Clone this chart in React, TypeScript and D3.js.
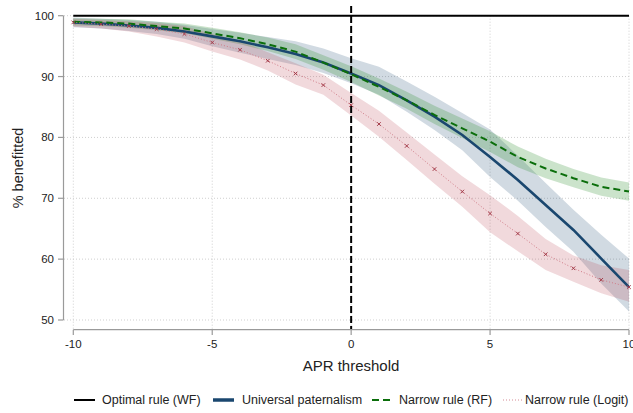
import React from "react";
import * as d3 from "d3";

const thresholds = [-10, -9, -8, -7, -6, -5, -4, -3, -2, -1, 0, 1, 2, 3, 4, 5, 6, 7, 8, 9, 10];

const universal = [98.9, 98.7, 98.4, 98.0, 97.4, 96.6, 95.8, 94.8, 93.7, 92.3, 90.5, 88.6, 86.1, 83.4, 80.4, 76.8, 73.0, 68.9, 64.8, 60.1, 55.4];
const universalLo = [98.1, 97.9, 97.5, 97.0, 96.2, 95.0, 93.9, 92.9, 91.9, 90.6, 88.9, 87.0, 84.2, 81.2, 77.9, 73.5, 69.6, 65.3, 61.2, 56.0, 51.4];
const universalHi = [99.7, 99.5, 99.3, 99.0, 98.5, 97.8, 97.2, 96.5, 95.8, 94.6, 93.0, 91.6, 89.2, 86.7, 84.0, 81.3, 77.0, 72.5, 68.1, 64.0, 60.1];

const rf = [99.0, 98.9, 98.7, 98.3, 97.9, 97.1, 96.3, 95.3, 94.1, 92.3, 90.4, 88.3, 86.1, 83.7, 81.5, 79.3, 76.8, 74.9, 73.3, 71.9, 71.1];
const rfLo = [98.4, 98.3, 98.0, 97.6, 97.1, 96.2, 95.3, 94.2, 92.9, 91.1, 89.1, 86.9, 84.7, 82.2, 79.9, 77.6, 75.1, 73.3, 71.8, 70.4, 69.6];
const rfHi = [99.6, 99.5, 99.4, 99.0, 98.7, 98.0, 97.3, 96.4, 95.3, 93.5, 91.7, 89.7, 87.5, 85.2, 83.1, 81.0, 78.5, 76.5, 74.8, 73.4, 72.6];

const logit = [98.9, 98.6, 98.3, 97.8, 97.0, 95.6, 94.4, 92.6, 90.5, 88.6, 85.3, 82.2, 78.6, 74.8, 71.1, 67.5, 64.2, 60.8, 58.5, 56.6, 55.4];
const logitLo = [98.2, 97.9, 97.4, 96.6, 95.6, 94.1, 92.8, 91.0, 88.7, 87.0, 83.6, 80.1, 76.3, 72.4, 68.6, 64.4, 61.3, 58.2, 56.3, 54.4, 53.0];
const logitHi = [99.5, 99.3, 99.1, 98.8, 98.3, 97.0, 95.9, 94.0, 92.2, 90.3, 87.3, 84.4, 80.8, 77.2, 73.6, 70.5, 67.1, 63.3, 60.6, 59.0, 58.2];

const optimal = 100;
const xTicks = [-10, -5, 0, 5, 10];
const yTicks = [50, 60, 70, 80, 90, 100];
const legendLabels = ["Optimal rule (WF)", "Universal paternalism", "Narrow rule (RF)", "Narrow rule (Logit)"];

const FONT = "'Liberation Sans', Arial, sans-serif";

export default function App() {
  const W = 633, H = 413;
  const x = d3.scaleLinear().domain([-10, 10]).range([73.3, 629]);
  const y = d3.scaleLinear().domain([50, 100]).range([320, 15.7]);

  const line = (vals: number[]) =>
    d3.line<number>().x((_, i) => x(thresholds[i])).y((v) => y(v))(vals) || "";
  const area = (lo: number[], hi: number[]) =>
    d3.area<number>().x((_, i) => x(thresholds[i])).y0((_, i) => y(lo[i])).y1((_, i) => y(hi[i]))(lo) || "";

  const axisColor = "#9a9a9a";
  const gridColor = "#cfcfcf";

  const blue = "#1a476f";
  const green = "#0b6e0b";
  const red = "#a33a48";

  const legendItems = [
    { lx: 74, tx: 102, stroke: "#000", width: 2, dash: undefined as string | undefined },
    { lx: 213, tx: 242, stroke: blue, width: 3.5, dash: undefined },
    { lx: 372, tx: 399, stroke: green, width: 2, dash: "7,4" },
    { lx: 503, tx: 525, stroke: "#d48a94", width: 1, dash: "1,2" },
  ];

  return (
    <svg width={W} height={H} style={{ position: "absolute", left: 0, top: 0, background: "#fff" }} fontFamily={FONT}>
      {/* grid */}
      {yTicks.map((t) => (
        <line key={"gy" + t} x1={64} x2={630} y1={y(t)} y2={y(t)} stroke={gridColor} strokeWidth={1} strokeDasharray="1,2" />
      ))}
      {xTicks.map((t) => (
        <line key={"gx" + t} x1={x(t)} x2={x(t)} y1={y(100)} y2={329} stroke={gridColor} strokeWidth={1} strokeDasharray="1,2" />
      ))}

      {/* bands */}
      <path d={area(universalLo, universalHi)} fill={blue} fillOpacity={0.2} />
      <path d={area(rfLo, rfHi)} fill="#2f8f2f" fillOpacity={0.25} />
      <path d={area(logitLo, logitHi)} fill="#b8404e" fillOpacity={0.2} />

      {/* optimal */}
      <line x1={x(-10)} x2={x(10)} y1={y(optimal)} y2={y(optimal)} stroke="#000" strokeWidth={2} />

      {/* lines */}
      <path d={line(universal)} fill="none" stroke={blue} strokeWidth={2.6} />
      <path d={line(rf)} fill="none" stroke={green} strokeWidth={2} strokeDasharray="7,4" />
      <path d={line(logit)} fill="none" stroke="#d07c88" strokeWidth={1} strokeDasharray="1,2" />
      {logit.map((v, i) => {
        const cx = x(thresholds[i]), cy = y(v), s = 1.8;
        return (
          <g key={"m" + i} stroke={red} strokeWidth={1}>
            <line x1={cx - s} y1={cy - s} x2={cx + s} y2={cy + s} />
            <line x1={cx - s} y1={cy + s} x2={cx + s} y2={cy - s} />
          </g>
        );
      })}

      {/* vertical dashed at 0 */}
      <line x1={x(0)} x2={x(0)} y1={6} y2={329} stroke="#000" strokeWidth={2} strokeDasharray="7,3" />

      {/* axes */}
      <line x1={63.5} x2={63.5} y1={y(100)} y2={y(50)} stroke={axisColor} strokeWidth={1.2} />
      {yTicks.map((t) => (
        <g key={"yt" + t}>
          <line x1={58} x2={63.5} y1={y(t)} y2={y(t)} stroke={axisColor} strokeWidth={1.2} />
          <text x={54} y={y(t)} dy="0.35em" textAnchor="end" fontSize={11.5} fill="#222">{t}</text>
        </g>
      ))}
      <line x1={x(-10)} x2={x(10)} y1={329.7} y2={329.7} stroke={axisColor} strokeWidth={1.2} />
      {xTicks.map((t) => (
        <g key={"xt" + t}>
          <line x1={x(t)} x2={x(t)} y1={329.7} y2={335} stroke={axisColor} strokeWidth={1.2} />
          <text x={x(t)} y={348} textAnchor="middle" fontSize={11.5} fill="#222">{t}</text>
        </g>
      ))}

      {/* titles */}
      <text x={351} y={371} textAnchor="middle" fontSize={15} fill="#222">APR threshold</text>
      <text transform="translate(23,168) rotate(-90)" textAnchor="middle" fontSize={14.5} fill="#222">% benefitted</text>

      {/* legend */}
      {legendItems.map((it, i) => (
        <g key={"lg" + i}>
          <line x1={it.lx} x2={it.lx + 21} y1={400} y2={400} stroke={it.stroke} strokeWidth={it.width} strokeDasharray={it.dash} />
          <text x={it.tx} y={400} dy="0.35em" fontSize={12.5} fill="#222">{legendLabels[i]}</text>
        </g>
      ))}
    </svg>
  );
}
